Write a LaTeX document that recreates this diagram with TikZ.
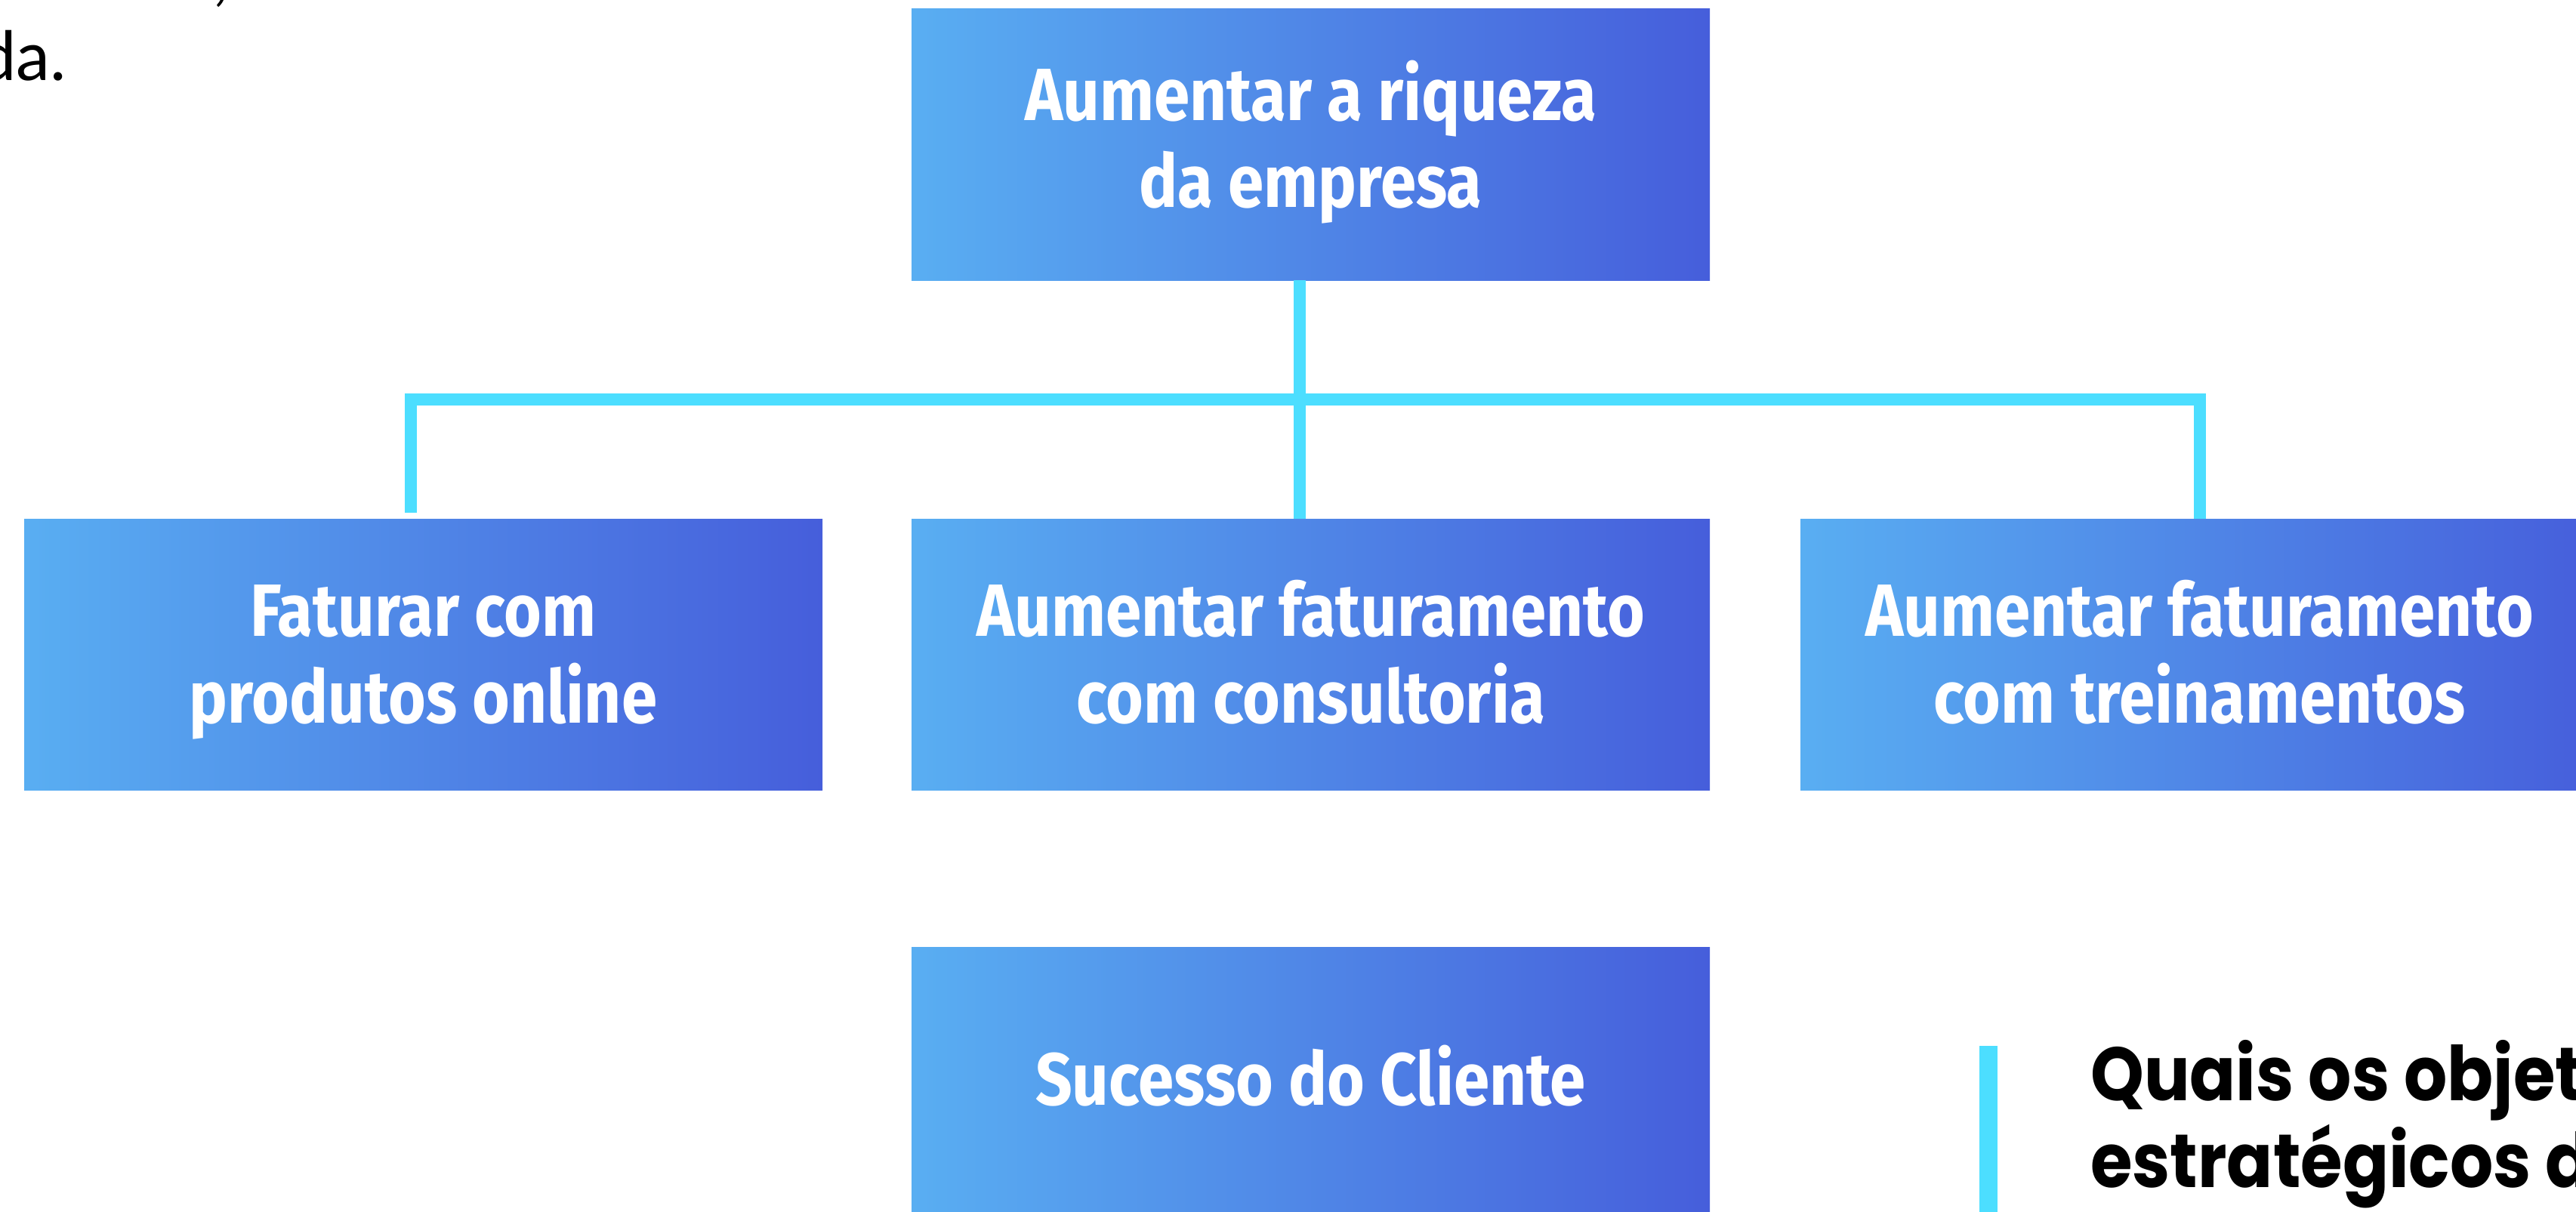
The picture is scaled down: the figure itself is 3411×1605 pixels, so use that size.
\documentclass[tikz,border=0pt]{standalone}
\usepackage{fontspec}
\newfontfamily\boxfont[FakeStretch=0.87]{Fira Sans}
\newfontfamily\qfont[FakeStretch=0.9]{Poppins}
\newfontfamily\plainfont{Lato}
\definecolor{gradL}{RGB}{89,174,242}
\definecolor{gradR}{RGB}{70,94,219}
\definecolor{linecyan}{RGB}{76,222,255}
\newcommand\hs[1]{\rule{0pt}{#1pt}}
\newcommand\ds[1]{\rule[-#1pt]{0pt}{#1pt}}
\begin{document}
\begin{tikzpicture}[x=1pt,y=-1pt,
  box/.style={rectangle, minimum width=1057pt, minimum height=359pt, inner sep=0pt,
    left color=gradL, right color=gradR, text=white, align=center,
    font=\boxfont\bfseries\fontsize{98}{115}\selectfont},
  conn/.style={draw=linecyan, line width=16pt, line join=miter, line cap=butt},
  qtext/.style={inner sep=0pt, align=left, text=black,
    font=\qfont\bfseries\fontsize{100}{115}\selectfont},
  plain/.style={inner sep=0pt, text=black, font=\plainfont\fontsize{90}{110}\selectfont}]
\useasboundingbox (0,0) rectangle (3411,1605);
\clip (0,0) rectangle (3411,1605);
\fill[white] (0,0) rectangle (3411,1605);
% boxes
\node[box] (top) at (1735.5,191.5) {\hs{90}Aumentar a riqueza\\da empresa\ds{39}};
\node[box] (b1) at (560.5,866.5) {\hs{100}Faturar com\\produtos online\ds{34}};
\node[box] (b2) at (1735.5,866.5) {\hs{100}Aumentar faturamento\\com consultoria\ds{34}};
\node[box] (b3) at (2912.5,866.5) {\hs{100}Aumentar faturamento\\com treinamentos\ds{34}};
\node[box] (b4) at (1735.5,1434) {\hs{95}\ds{37}Sucesso do Cliente};
% connectors
\coordinate (jL) at (544,679);
\coordinate (busY) at (0,529);
\coordinate (midX) at (1721,0);
\draw[conn] (jL) -- (jL |- busY) -- (b3.north |- busY) -- (b3.north);
\draw[conn] (top.south -| midX) -- (b2.north -| midX);
% side texts
\node[plain, anchor=base east] (da) at (88,107) {da.};
\node[plain, anchor=base west] (comma) at (282,-2) {,};
\fill[linecyan] (2621,1385) rectangle (2645,1605);
\node[qtext, anchor=north west] (q) at (2768,1347) {\hs{110}Quais os objetivos\\estratégicos da empresa?};
\end{tikzpicture}
\end{document}
